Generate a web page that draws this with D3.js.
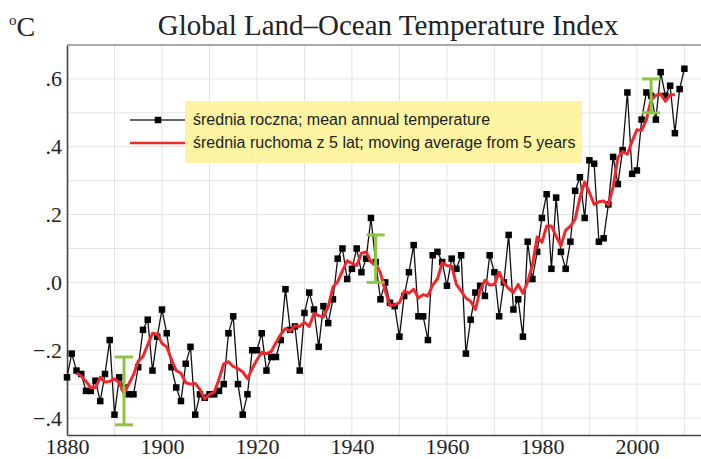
<!DOCTYPE html>
<html>
<head>
<meta charset="utf-8">
<script src="https://cdn.jsdelivr.net/npm/d3@7"></script>
<style>
  body { margin: 0; background: #fff; }
  svg { display: block; }
  .tick text { font-family: "Liberation Serif", "Times New Roman", serif; font-size: 22px; fill: #222; }
  .legend-label { font-family: "Liberation Sans", Arial, sans-serif; font-size: 16px; fill: #222; }
</style>
</head>
<body>
<div id="chart"></div>
<script>
const firstYear = 1880;
// annual mean, °C
const annual = [
  -0.28, -0.21, -0.26, -0.27, -0.32, -0.32, -0.29, -0.35, -0.27, -0.17,
  -0.39, -0.28, -0.31, -0.33, -0.33, -0.25, -0.14, -0.11, -0.26, -0.16,
  -0.08, -0.15, -0.25, -0.31, -0.35, -0.24, -0.19, -0.39, -0.33, -0.34,
  -0.33, -0.33, -0.32, -0.30, -0.15, -0.10, -0.30, -0.39, -0.33, -0.20,
  -0.20, -0.15, -0.26, -0.22, -0.22, -0.17, -0.02, -0.14, -0.13, -0.26,
  -0.09, -0.03, -0.08, -0.19, -0.07, -0.12, -0.05, 0.07, 0.10, 0.01,
  0.04, 0.10, 0.03, 0.07, 0.19, 0.06, -0.05, 0.00, -0.06, -0.07,
  -0.16, -0.04, 0.03, 0.11, -0.10, -0.10, -0.17, 0.08, 0.09, 0.06,
  -0.01, 0.07, 0.04, 0.08, -0.21, -0.11, -0.03, -0.01, -0.04, 0.08,
  0.03, -0.10, 0.00, 0.14, -0.08, -0.05, -0.16, 0.12, 0.01, 0.09,
  0.19, 0.26, 0.04, 0.25, 0.09, 0.04, 0.12, 0.27, 0.31, 0.19,
  0.36, 0.35, 0.12, 0.13, 0.23, 0.37, 0.29, 0.39, 0.56, 0.32,
  0.33, 0.48, 0.56, 0.55, 0.48, 0.62, 0.55, 0.58, 0.44, 0.57,
  0.63
];
// 5-year running mean, 1882..2008
const smoothFirstYear = 1882;
const smooth = [
  -0.268, -0.276, -0.292, -0.310, -0.310, -0.280, -0.294, -0.292,
  -0.284, -0.296, -0.328, -0.300, -0.272, -0.232, -0.218, -0.184, -0.150, -0.152,
  -0.180, -0.190, -0.228, -0.260, -0.268, -0.296, -0.300, -0.298, -0.316, -0.344,
  -0.330, -0.324, -0.286, -0.240, -0.234, -0.248, -0.254, -0.264, -0.284, -0.254,
  -0.228, -0.206, -0.210, -0.204, -0.178, -0.154, -0.136, -0.144, -0.128, -0.130,
  -0.118, -0.130, -0.092, -0.098, -0.102, -0.072, -0.014, 0.002, 0.034, 0.064,
  0.056, 0.050, 0.086, 0.090, 0.060, 0.054, 0.028, -0.024, -0.068, -0.066,
  -0.060, -0.026, -0.032, -0.020, -0.046, -0.036, -0.040, -0.008, 0.010, 0.058,
  0.050, 0.048, -0.006, -0.026, -0.046, -0.056, -0.080, -0.022, 0.006, -0.008,
  -0.006, 0.030, -0.002, -0.018, -0.030, -0.006, -0.032, 0.002, 0.050, 0.134,
  0.118, 0.166, 0.166, 0.136, 0.108, 0.154, 0.166, 0.186, 0.250, 0.296,
  0.266, 0.230, 0.238, 0.240, 0.228, 0.282, 0.368, 0.386, 0.378, 0.416,
  0.450, 0.448, 0.480, 0.538, 0.552, 0.556, 0.534, 0.552, 0.554
];
// uncertainty bars
const errYears = [1892, 1945, 2003];
const errLow = [-0.42, 0.00, 0.50];
const errHigh = [-0.22, 0.14, 0.60];

const yTicks = [-0.4, -0.2, 0, 0.2, 0.4, 0.6];
const xTicks = [1880, 1900, 1920, 1940, 1960, 1980, 2000];
const legendLabels = [
  "średnia roczna; mean annual temperature",
  "średnia ruchoma z 5 lat; moving average from 5 years"
];
const titleText = "Global Land\u2013Ocean Temperature Index";

const width = 701, height = 459;
const plotLeft = 67, plotRight = 701, plotTop = 45, plotBottom = 435;

const annualData = annual.map((v, i) => ({ year: firstYear + i, value: v }));
const smoothData = smooth.map((v, i) => ({ year: smoothFirstYear + i, value: v }));

const x = d3.scaleLinear().domain([1880, 2013.5]).range([plotLeft, plotRight]);
const y = d3.scaleLinear().domain([-0.45, 0.70]).range([plotBottom, plotTop]);

const svg = d3.select("#chart").append("svg")
    .attr("width", width)
    .attr("height", height);

// grid
svg.append("g")
    .selectAll("line")
    .data(d3.range(1890, 2020, 10))
    .enter().append("line")
    .attr("x1", d => x(d)).attr("x2", d => x(d))
    .attr("y1", plotTop).attr("y2", plotBottom)
    .attr("stroke", "#e3e3e3").attr("stroke-width", 1);

svg.append("g")
    .selectAll("line")
    .data(d3.range(-4, 7).map(d => d / 10))
    .enter().append("line")
    .attr("x1", plotLeft).attr("x2", plotRight)
    .attr("y1", d => y(d)).attr("y2", d => y(d))
    .attr("stroke", "#e3e3e3").attr("stroke-width", 1);

// frame top
svg.append("line")
    .attr("x1", plotLeft).attr("x2", plotRight)
    .attr("y1", plotTop).attr("y2", plotTop)
    .attr("stroke", "#555").attr("stroke-width", 1.2);

const fmt = d => d === 0 ? ".0" : (d < 0 ? "\u2212" : "") + d3.format(".1f")(Math.abs(d)).replace(/^0/, "");

const yAxis = svg.append("g")
    .attr("transform", `translate(${plotLeft},0)`)
    .call(d3.axisLeft(y).tickValues(yTicks).tickFormat(fmt).tickSize(0).tickPadding(5));
yAxis.select(".domain").attr("stroke", "#444").attr("stroke-width", 1.6);

const xAxis = svg.append("g")
    .attr("transform", `translate(0,${plotBottom})`)
    .call(d3.axisBottom(x).tickValues(xTicks).tickFormat(d3.format("d")).tickSize(0));
xAxis.select(".domain").attr("stroke", "#444").attr("stroke-width", 1.6);
xAxis.selectAll("text").attr("y", 19).attr("dy", null);

// annual line + markers
const line = d3.line().x(d => x(d.year)).y(d => y(d.value));

svg.append("path")
    .datum(annualData)
    .attr("fill", "none")
    .attr("stroke", "#111")
    .attr("stroke-width", 1.3)
    .attr("d", line);

const ms = 6.5;
svg.append("g")
    .selectAll("rect")
    .data(annualData)
    .enter().append("rect")
    .attr("x", d => x(d.year) - ms / 2)
    .attr("y", d => y(d.value) - ms / 2)
    .attr("width", ms).attr("height", ms)
    .attr("fill", "#000");

// running mean
svg.append("path")
    .datum(smoothData)
    .attr("fill", "none")
    .attr("stroke", "#f0282d")
    .attr("stroke-width", 3)
    .attr("stroke-linejoin", "round")
    .attr("d", line);

// error bars
const errColor = "#8cc63e";
const cap = 9;
const err = svg.append("g");
errYears.forEach((yr, i) => {
    const cx = x(yr);
    err.append("line")
        .attr("x1", cx).attr("x2", cx)
        .attr("y1", y(errLow[i])).attr("y2", y(errHigh[i]))
        .attr("stroke", errColor).attr("stroke-width", 3);
    [errLow[i], errHigh[i]].forEach(v => {
        err.append("line")
            .attr("x1", cx - cap).attr("x2", cx + cap)
            .attr("y1", y(v)).attr("y2", y(v))
            .attr("stroke", errColor).attr("stroke-width", 3);
    });
});

// legend
const legend = svg.append("g");
legend.append("rect")
    .attr("x", 185).attr("y", 101)
    .attr("width", 397).attr("height", 62)
    .attr("fill", "#fcf4a0");

legend.append("line")
    .attr("x1", 130).attr("x2", 185).attr("y1", 120).attr("y2", 120)
    .attr("stroke", "#333").attr("stroke-width", 1.5);
legend.append("rect")
    .attr("x", 158 - ms / 2).attr("y", 120 - ms / 2)
    .attr("width", ms).attr("height", ms).attr("fill", "#000");
legend.append("line")
    .attr("x1", 130).attr("x2", 185).attr("y1", 143).attr("y2", 143)
    .attr("stroke", "#f0282d").attr("stroke-width", 2.5);

legend.selectAll(".legend-label")
    .data(legendLabels)
    .enter().append("text")
    .attr("class", "legend-label")
    .attr("x", 193)
    .attr("y", (d, i) => 125 + i * 23)
    .text(d => d);

// title and unit
svg.append("text")
    .attr("x", 388).attr("y", 35)
    .attr("text-anchor", "middle")
    .style("font-family", '"Liberation Serif", "Times New Roman", serif')
    .style("font-size", "29px")
    .style("fill", "#222")
    .text(titleText);

const unit = svg.append("text")
    .attr("x", 9).attr("y", 36)
    .style("font-family", '"Liberation Serif", "Times New Roman", serif')
    .style("font-size", "28px")
    .style("fill", "#222");
unit.append("tspan").attr("font-size", "15px").attr("dy", -11).text("o");
unit.append("tspan").attr("dy", 11).text("C");
</script>
</body>
</html>
